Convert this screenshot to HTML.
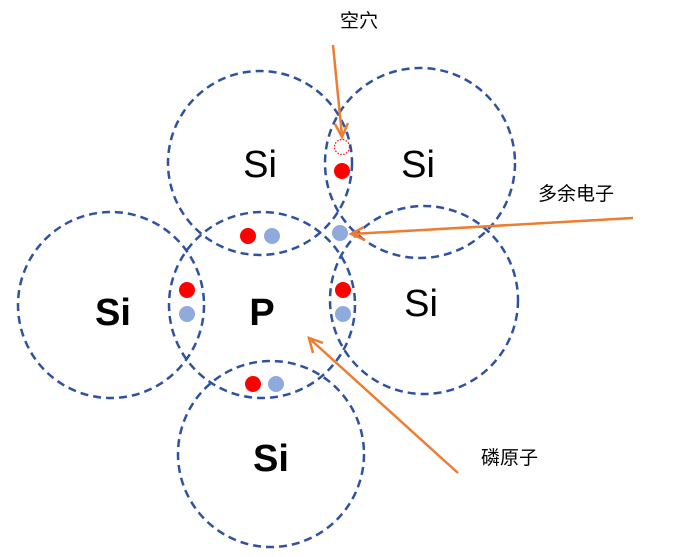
<!DOCTYPE html>
<html><head><meta charset="utf-8"><style>body{margin:0;background:#fff}</style></head><body>
<svg width="673" height="552" viewBox="0 0 673 552" xmlns="http://www.w3.org/2000/svg">
<g fill="none" stroke="#2F52A0" stroke-width="2.5" stroke-dasharray="8,5">
<circle cx="260" cy="163" r="92"/>
<circle cx="420" cy="163" r="95"/>
<circle cx="111" cy="305" r="93"/>
<circle cx="262" cy="305" r="93"/>
<circle cx="424" cy="300" r="94"/>
<circle cx="271" cy="454" r="93"/>
</g>
<g font-family="Liberation Sans, sans-serif" font-size="38" text-anchor="middle" fill="#000">
<text x="260" y="177">Si</text>
<text x="418" y="177">Si</text>
<text x="113" y="325" font-weight="bold">Si</text>
<text x="262" y="325" font-weight="bold">P</text>
<text x="421" y="316">Si</text>
<text x="271" y="471" font-weight="bold">Si</text>
</g>
<g fill="#FF0000">
<circle cx="248" cy="236" r="8"/><circle cx="342" cy="171" r="8"/>
<circle cx="187" cy="290" r="8"/><circle cx="343" cy="290" r="8"/>
<circle cx="253" cy="384" r="8"/>
</g>
<g fill="#8FAADC">
<circle cx="272" cy="236" r="8"/><circle cx="340" cy="233" r="8"/>
<circle cx="187" cy="314" r="8"/><circle cx="343" cy="314" r="8"/>
<circle cx="276" cy="384" r="8"/>
</g>
<circle cx="342" cy="147" r="7.5" fill="none" stroke="#FF0000" stroke-width="1.2" stroke-dasharray="1.5,1.5"/>
<g stroke="#ED7D31" stroke-width="2.5" fill="none">
<line x1="333" y1="45" x2="342" y2="136"/>
<polyline points="335,124 342,137 348,123"/>
<line x1="633" y1="218" x2="352" y2="234"/>
<polyline points="364,227 351,234 365,240"/>
<line x1="458" y1="473" x2="310" y2="339"/>
<polyline points="313,353 309,338 323,343"/>
</g>
<g font-family="Liberation Sans, 'Noto Sans CJK SC', sans-serif" font-size="19" fill="#000">
<text x="340" y="27">空穴</text>
<text x="538" y="200">多余电子</text>
<text x="481" y="464">磷原子</text>
</g>
</svg>
</body></html>
